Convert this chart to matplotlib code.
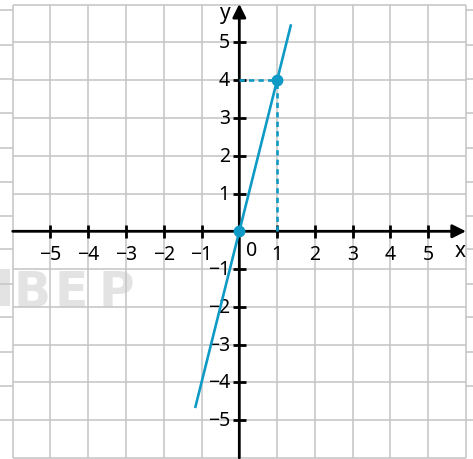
import matplotlib
matplotlib.use("Agg")
import matplotlib.pyplot as plt
from matplotlib.patches import Rectangle

plt.rcParams['font.family'] = ['Noto Sans', 'DejaVu Sans']

# data
grid_pos = list(range(-6, 7))
x_ticks = [-5, -4, -3, -2, -1, 1, 2, 3, 4, 5]
y_ticks = [-5, -4, -3, -2, -1, 1, 2, 3, 4, 5]
line_x = [-1.17, 1.37]
line_y = [-4.68, 5.48]
pts_x = [0, 1]
pts_y = [0, 4]
# stray grid bits from the neighbouring picture at the edges
stub_y = [5.85, 4.93, 4.03, 3.13, 2.21, 1.31, 0.40, -0.47, -1.40, -2.27, -3.20, -4.10, -5.00]
# watermark letters
wm_letters = ["B", "E", "P"]
wm_x = [-5.99, -4.88, -3.72]

blue = '#0f9ac6'
gridc = '#c4c4c4'
wmc = '#e3e3e3'

fig = plt.figure(figsize=(4.73, 4.60), dpi=100)
ax = fig.add_axes([0, 0, 1, 1])
ax.set_xlim(-6.336, 6.187)
ax.set_ylim(-6.029, 6.150)
ax.axis('off')

# watermark, the first letter is cut by the picture edge
ax.add_patch(Rectangle((-6.4, -1.98), 0.34, 0.97, color=wmc, lw=0, zorder=0))
for ch, xx in zip(wm_letters, wm_x):
    ax.text(xx, -1.98, ch, fontsize=35, fontweight='bold', family='DejaVu Sans',
            color=wmc, ha='left', va='baseline', zorder=0)

# grid
ax.vlines(grid_pos, -6, 6, color=gridc, lw=1.1, zorder=1)
ax.hlines(grid_pos, -6, 6, color=gridc, lw=1.1, zorder=1)
ax.hlines(stub_y, -6.4, -6, color=gridc, lw=1.1, zorder=1)
ax.hlines(stub_y, 6, 6.3, color=gridc, lw=1.1, zorder=1)

# axes with arrows
arr = dict(arrowstyle='-|>,head_length=0.4,head_width=0.2', lw=2, color='k',
           mutation_scale=20, shrinkA=0, shrinkB=0)
ax.annotate('', xy=(6.0, 0), xytext=(-6, 0), arrowprops=arr, zorder=3)
ax.annotate('', xy=(0, 6.02), xytext=(0, -6), arrowprops=arr, zorder=3)

ax.vlines(x_ticks, -0.17, 0.17, color='k', lw=2, zorder=3)
ax.hlines(y_ticks, -0.17, 0.17, color='k', lw=2, zorder=3)

for v in x_ticks:
    ax.text(v, -0.59, str(v).replace('-', '\u2212'), fontsize=14,
            ha='center', va='center', zorder=4)
for v in y_ticks:
    ax.text(-0.25, v, str(v).replace('-', '\u2212'), fontsize=14,
            ha='right', va='center', zorder=4)
ax.text(0.32, -0.5, "0", fontsize=14, ha='center', va='center', zorder=4)
ax.text(5.85, -0.5, "x", fontsize=15, ha='center', va='center', zorder=4)
ax.text(-0.38, 5.8, "y", fontsize=15, ha='center', va='center', zorder=4)

# line y = 4x and its points
ax.plot(line_x, line_y, color=blue, lw=1.9, solid_capstyle='butt', zorder=5)
ax.plot([pts_x[0], pts_x[1]], [pts_y[1], pts_y[1]], color=blue, lw=1.9,
        dashes=(2, 1.6), zorder=5)
ax.plot([pts_x[1], pts_x[1]], [pts_y[0], pts_y[1]], color=blue, lw=1.9,
        dashes=(2, 1.6), zorder=5)
ax.plot(pts_x, pts_y, 'o', color=blue, markersize=7.5, zorder=6)

fig.savefig("out.png", dpi=100)
